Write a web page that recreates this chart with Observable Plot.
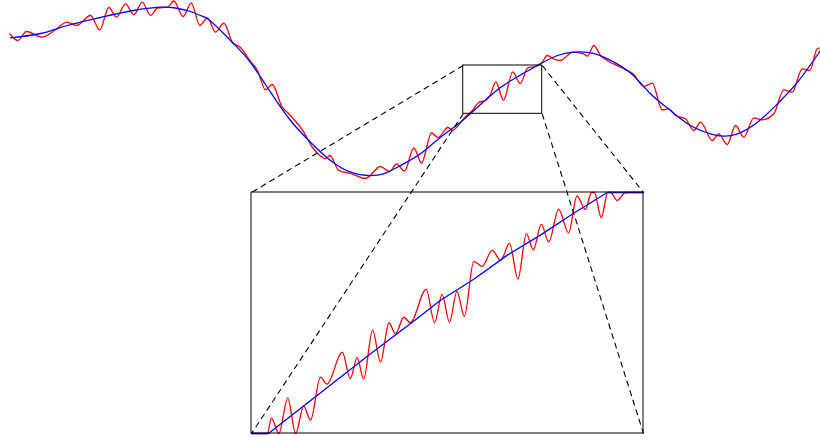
<!DOCTYPE html>
<html>
<head>
<meta charset="utf-8">
<script src="https://cdn.jsdelivr.net/npm/d3@7"></script>
<script src="https://cdn.jsdelivr.net/npm/@observablehq/plot@0.6"></script>
<style>
html, body { margin: 0; padding: 0; background: #fff; }
#chart { width: 820px; height: 440px; position: relative; }
</style>
</head>
<body>
<div id="chart"></div>
<script>
// ---- main view: smooth signal (x, value; value axis points down) ----
const smoothX = [10, 40, 67, 100, 133, 160, 175, 190, 200, 210, 233, 250, 270, 290, 310, 330, 350, 367, 383, 400, 420, 440, 460, 480, 500, 520, 540, 557, 573, 590, 607, 630, 650, 670, 690, 710, 723, 737, 757, 777, 797, 820];
const smoothY = [37.3, 33, 25, 17, 10, 6.7, 7.5, 11, 15, 20.5, 43, 62, 91.7, 120, 141.7, 160, 171.7, 175, 173.3, 165, 153.3, 136.7, 121.7, 104, 87, 74.5, 63.3, 55, 51.7, 52.3, 58.3, 72.5, 93.3, 110, 125, 133.3, 135.7, 133.3, 121.7, 103.3, 81.7, 50];

// ---- main view: noisy signal ----
const noisyX = [9.5, 17.3, 26, 41.7, 55, 66.7, 76, 90, 99.3, 108.3, 116, 125, 133.3, 141.7, 150, 157, 167, 173.3, 182.7, 190.7, 199.3, 207, 215, 223.3, 232, 240, 250, 257, 265, 271.7, 281.7, 288, 303.3, 312, 320, 325, 329.3, 338.3, 350, 365, 380, 389, 396, 404, 413.3, 421, 431, 437.5, 447.5, 452, 460, 467, 472, 478, 485, 490, 495.3, 503, 512.3, 519.7, 527.3, 533, 538, 541.5, 546.7, 553, 560, 567, 572, 583, 587, 593.3, 600, 606.7, 620, 633.3, 643.3, 651.7, 661.7, 668.3, 675, 685, 693.3, 700, 711.7, 718.3, 726.7, 735, 743.3, 753.3, 761.7, 773.3, 783.3, 791.7, 801.7, 809.3, 816.7, 820];
const noisyY = [33.5, 40, 31, 36.7, 29.3, 21.7, 25, 15, 29.3, 7, 16.7, 3.3, 14.3, 1.7, 15, 7.5, 6.7, 0.5, 16, 2.3, 25, 17.3, 31.7, 22.7, 42, 47, 61, 70, 89.3, 84, 106.7, 113, 131.7, 147, 155.5, 158.3, 155, 170, 173, 178, 166, 171, 163.5, 170.5, 147.5, 162.5, 132.5, 137, 127, 130, 122, 114.3, 110, 102, 100, 94, 81.3, 99.7, 71.3, 83, 67.3, 66.3, 64.5, 62, 55, 58.3, 60, 55, 51.7, 53.3, 55.7, 45, 55, 60, 66.7, 74, 86, 82.7, 109.3, 108.3, 115, 118.3, 130, 121.7, 140, 133.3, 144, 125, 136.7, 117.3, 119.3, 113.3, 89.3, 91.7, 68.3, 70, 48.3, 47.3];

// ---- zoomed window (same units as main view) ----
const zoomX = [462.7, 541.7];
const zoomY = [65, 113.3];

// ---- zoom panel: smooth signal ----
const zoomSmoothX = [462.7, 466.1, 473.2, 486.3, 495.1, 500.8, 507.5, 514.2, 521.0, 527.7, 534.4, 541.7];
const zoomSmoothY = [113.3, 113.3, 107.8, 97.6, 91.0, 86.6, 82.4, 77.6, 73.5, 69.1, 65, 65];

// ---- zoom panel: noisy signal ----
const zoomNoisyX = [462.7, 465.9, 466.7, 468.2, 470.0, 471.6, 473.2, 474.6, 476.6, 477.9, 481.0, 482.6, 484.0, 485.3, 487.1, 488.7, 490.4, 491.7, 493.4, 494.7, 497.9, 499.6, 501.1, 502.6, 504.1, 505.6, 507.5, 509.2, 511.2, 512.9, 514.7, 516.4, 518.1, 519.5, 521.1, 522.6, 524.6, 526.6, 528.3, 530.0, 531.2, 531.8, 533.2, 534.5, 535.1, 536.4, 538.1, 541.7];
const zoomNoisyY = [113.3, 113.3, 110.2, 113.3, 106.2, 113.3, 107.8, 110.6, 102.0, 103.4, 97.0, 102.3, 98.1, 102.4, 92.6, 99.0, 91.1, 93.3, 90.0, 91.1, 84.4, 91.1, 85.4, 91.0, 84.8, 89.8, 78.8, 79.8, 76.6, 78.6, 75.2, 82.3, 73.3, 76.5, 71.4, 74.9, 68.4, 73.1, 65.7, 68.4, 65, 65, 70.1, 65, 65, 66.6, 65, 65];

// ---- layout (pixels) ----
const W = 820, H = 440;
const inset = {left: 251, top: 192, width: 392, height: 241};

const toRows = (xs, ys) => xs.map((x, i) => ({x, y: ys[i]}));
const smooth = toRows(smoothX, smoothY);
const noisy = toRows(noisyX, noisyY);
const zSmooth = toRows(zoomSmoothX, zoomSmoothY);
const zNoisy = toRows(zoomNoisyX, zoomNoisyY);

const xMain = {domain: [0, W], range: [0, W]};
const yMain = {domain: [0, H], range: [0, H]};
const sx = Plot.scale({x: xMain});
const sy = Plot.scale({y: yMain});

// inset corners expressed in main-view units
const iL = sx.invert(inset.left), iR = sx.invert(inset.left + inset.width);
const iT = sy.invert(inset.top), iB = sy.invert(inset.top + inset.height);

const connectors = [
  {x1: zoomX[0], y1: zoomY[0], x2: iL, y2: iT},
  {x1: zoomX[1], y1: zoomY[0], x2: iR, y2: iT},
  {x1: zoomX[0], y1: zoomY[1], x2: iL, y2: iB},
  {x1: zoomX[1], y1: zoomY[1], x2: iR, y2: iB}
];

const lineW = 1.3;

const main = Plot.plot({
  width: W, height: H, margin: 0,
  x: {...xMain, axis: null},
  y: {...yMain, axis: null},
  marks: [
    Plot.line(noisy, {x: "x", y: "y", stroke: "#ff0000", strokeWidth: lineW, curve: "monotone-x"}),
    Plot.line(smooth, {x: "x", y: "y", stroke: "#0000ff", strokeWidth: lineW, curve: "natural"}),
    Plot.rect([{x1: zoomX[0], x2: zoomX[1], y1: zoomY[0], y2: zoomY[1]}],
      {x1: "x1", x2: "x2", y1: "y1", y2: "y2", fill: "none", stroke: "#000", strokeWidth: 1}),
    Plot.link(connectors, {x1: "x1", y1: "y1", x2: "x2", y2: "y2", stroke: "#000", strokeWidth: 1.1, strokeDasharray: "6,4"}),
    Plot.rect([{x1: iL, x2: iR, y1: iT, y2: iB}],
      {x1: "x1", x2: "x2", y1: "y1", y2: "y2", fill: "none", stroke: "#000", strokeWidth: 1})
  ]
});

const zoomPlot = Plot.plot({
  width: inset.width, height: inset.height, margin: 0,
  x: {domain: zoomX, axis: null},
  y: {domain: zoomY, reverse: true, axis: null},
  marks: [
    Plot.line(zNoisy, {x: "x", y: "y", stroke: "#ff0000", strokeWidth: lineW, curve: "monotone-x"}),
    Plot.line(zSmooth, {x: "x", y: "y", stroke: "#0000ff", strokeWidth: lineW, curve: "linear"})
  ]
});

// move the zoom panel's content into a translated group inside the main svg
const g = document.createElementNS("http://www.w3.org/2000/svg", "g");
g.setAttribute("transform", `translate(${inset.left},${inset.top})`);
g.setAttribute("class", zoomPlot.getAttribute("class") || "");
while (zoomPlot.firstChild) g.appendChild(zoomPlot.firstChild);
main.insertBefore(g, main.querySelector("g[aria-label='rect']"));

document.getElementById("chart").appendChild(main);
</script>
</body>
</html>
